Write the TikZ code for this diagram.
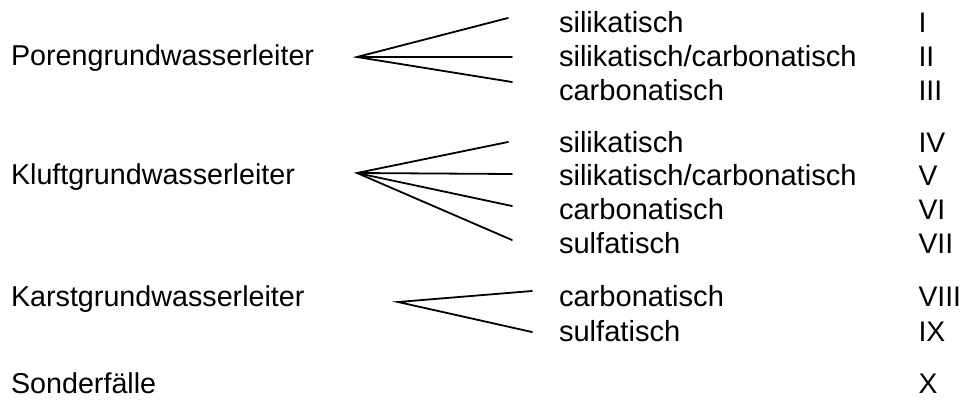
\documentclass[tikz,border=0pt]{standalone}
\usepackage{fontspec}
\setmainfont{Liberation Sans}
\begin{document}
\begin{tikzpicture}[x=1pt,y=-1pt,
  lbl/.style={anchor=base west,inner sep=0pt,outer sep=0pt,font=\fontsize{29}{34}\selectfont},
  leftlbl/.style={lbl,font=\fontsize{28.7}{34}\selectfont},
  midlbl/.style={lbl,font=\fontsize{29.1}{34}\selectfont},
  romlbl/.style={lbl,font=\fontsize{28.3}{34}\selectfont},
  fanline/.style={line width=1.8pt,line cap=round}]
\useasboundingbox (0,0) rectangle (965,399);
% left labels
\node[leftlbl] (poren) at (11,65) {Porengrundwasserleiter};
\node[leftlbl] (kluft) at (11,184) {Kluftgrundwasserleiter};
\node[leftlbl] (karst) at (11,306) {Karstgrundwasserleiter};
\node[leftlbl] (sonder) at (11,393) {Sonderfälle};
% middle column
\node[midlbl] (m1) at (559,32) {silikatisch};
\node[midlbl] (m2) at (559,66) {silikatisch/carbonatisch};
\node[midlbl] (m3) at (559,100) {carbonatisch};
\node[midlbl] (m4) at (559,152) {silikatisch};
\node[midlbl] (m5) at (559,185) {silikatisch/carbonatisch};
\node[midlbl] (m6) at (559,219) {carbonatisch};
\node[midlbl] (m7) at (559,253) {sulfatisch};
\node[midlbl] (m8) at (559,306) {carbonatisch};
\node[midlbl] (m9) at (559,341) {sulfatisch};
% roman numerals
\node[romlbl] (r1) at (918.5,32) {I};
\node[romlbl] (r2) at (918.5,66) {II};
\node[romlbl] (r3) at (918.5,100) {III};
\node[romlbl] (r4) at (918.5,152) {IV};
\node[romlbl] (r5) at (918.5,185) {V};
\node[romlbl] (r6) at (918.5,219) {VI};
\node[romlbl] (r7) at (918.5,253) {VII};
\node[romlbl] (r8) at (918.5,306) {VIII};
\node[romlbl] (r9) at (918.5,341) {IX};
\node[romlbl] (r10) at (918.5,393) {X};
% fan 1
\coordinate (a1) at (357,57);
\coordinate (e11) at (508,18);
\coordinate (e12) at (512,57);
\coordinate (e13) at (512,82);
\draw[fanline] (e11) -- (a1) -- (e13);
\draw[fanline] (a1) -- (e12);
% fan 2
\coordinate (a2) at (357,173);
\coordinate (e21) at (508,142);
\coordinate (e22) at (512,174);
\coordinate (e23) at (512,206);
\coordinate (e24) at (512,240);
\draw[fanline] (e21) -- (a2) -- (e24);
\draw[fanline] (a2) -- (e22);
\draw[fanline] (a2) -- (e23);
% fan 3
\coordinate (a3) at (398,302);
\coordinate (e31) at (532,291);
\coordinate (e32) at (532,332);
\draw[fanline] (e31) -- (a3) -- (e32);
\end{tikzpicture}
\end{document}
